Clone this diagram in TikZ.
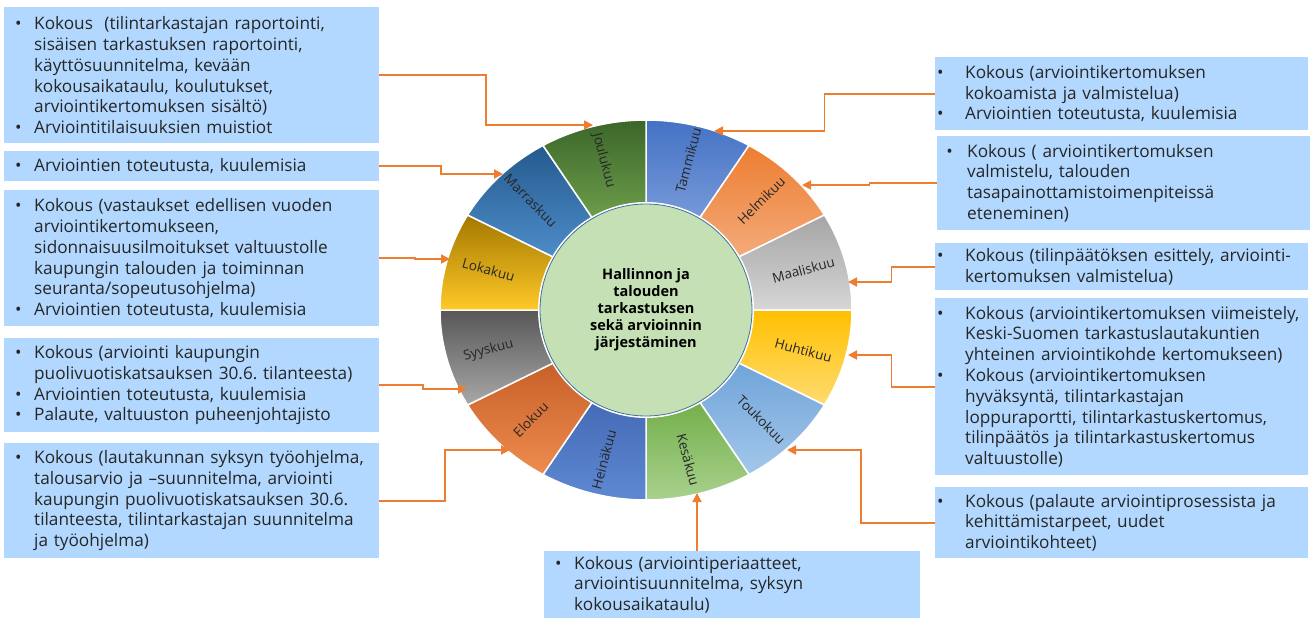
\documentclass[tikz,border=0pt]{standalone}
\usepackage{fontspec}
\setmainfont{Open Sans}
\usepackage{tikz}
\usetikzlibrary{arrows.meta,calc}
\definecolor{boxblue}{RGB}{178,216,255}
\definecolor{linkorange}{HTML}{ED7D31}
\definecolor{hubgreen}{HTML}{C5E0B4}
\definecolor{hubline}{HTML}{41719C}
\definecolor{janT}{HTML}{4472C4}\definecolor{janB}{HTML}{7A9BDA}
\definecolor{febT}{HTML}{ED7D31}\definecolor{febB}{HTML}{F4AC7C}
\definecolor{marT}{HTML}{A5A5A5}\definecolor{marB}{HTML}{D6D6D6}
\definecolor{aprT}{HTML}{FFC000}\definecolor{aprB}{HTML}{FFDB70}
\definecolor{mayT}{HTML}{6FA3D9}\definecolor{mayB}{HTML}{A3C7EA}
\definecolor{junT}{HTML}{70AD47}\definecolor{junB}{HTML}{A9D18E}
\definecolor{julT}{HTML}{4469B5}\definecolor{julB}{HTML}{5E89D2}
\definecolor{augT}{HTML}{C65F28}\definecolor{augB}{HTML}{EE8C4E}
\definecolor{sepT}{HTML}{575757}\definecolor{sepB}{HTML}{A8A8A8}
\definecolor{octT}{HTML}{A37800}\definecolor{octB}{HTML}{FFC927}
\definecolor{novT}{HTML}{245B8E}\definecolor{novB}{HTML}{4F8DCA}
\definecolor{decT}{HTML}{3B6629}\definecolor{decB}{HTML}{6FA04D}
\newcommand{\bl}[1][10.8pt]{\makebox[30pt][l]{\hspace*{#1}\textbullet}}
\newcommand{\cl}{\hspace*{30pt}}
\frenchspacing

\begin{document}
\begin{tikzpicture}[x=1pt,y=-1pt,
    box/.style={fill=boxblue,anchor=north west,inner sep=0pt,align=left,
      font=\fontsize{17.2pt}{20.8pt}\selectfont,text=black!85},
    link/.style={linkorange,line width=1.8pt,-{Triangle[length=9pt,width=9pt]}},
    elbow/.style={to path={-| ($(\tikztostart)!0.5!(\tikztotarget)$) |- (\tikztotarget)}},
    segment/.style={draw=white,line width=1.5pt},
    month/.style={font=\fontsize{13.5pt}{15pt}\selectfont,text=black!85}]
  \useasboundingbox (0,0) rectangle (1312,618);

  % wheel
  \begin{scope}[shift={(646,310)},y=1pt]
    \foreach \a/\tc/\bc/\lab/\rot/\nm in {60/janT/janB/Tammikuu/75/jan,
        30/febT/febB/Helmikuu/45/feb, 0/marT/marB/Maaliskuu/15/mar,
        -30/aprT/aprB/Huhtikuu/-15/apr, -60/mayT/mayB/Toukokuu/-45/may,
        -90/junT/junB/Kesäkuu/-75/jun, -120/julT/julB/Heinäkuu/75/jul,
        -150/augT/augB/Elokuu/45/aug, -180/sepT/sepB/Syyskuu/15/sep,
        150/octT/octB/Lokakuu/-15/oct, 120/novT/novB/Marraskuu/-45/nov,
        90/decT/decB/Joulukuu/-75/dec}{
      \path[segment,top color=\tc,bottom color=\bc]
        ({100*cos(\a)},{100*sin(\a)}) -- ({206*cos(\a)},{190*sin(\a)})
        arc[start angle=\a,end angle=\a+30,x radius=206,y radius=190]
        -- ({100*cos(\a+30)},{100*sin(\a+30)})
        arc[start angle=\a+30,end angle=\a,radius=100] -- cycle;
      \node[month,rotate=\rot] (m\nm) at ({163*cos(\a+15)},{155*sin(\a+15)}) {\lab};
    }
    \fill[white] (0,0) circle (108);
    \node[circle,fill=hubgreen,draw=hubline,line width=0.8pt,minimum size=212pt,
      inner sep=0pt,align=center,font=\bfseries\fontsize{14.5pt}{17pt}\selectfont]
      (hub) at (0,0) {Hallinnon ja\\talouden\\tarkastuksen\\sekä arvioinnin\\järjestäminen};
  \end{scope}

  \coordinate (tDec) at (593,125);
  \coordinate (tNov) at (503,174);
  \coordinate (tOct) at (450,259);
  \coordinate (tSep) at (467,389);
  \coordinate (tAug) at (510,450);
  \coordinate (tJan) at (714,131);
  \coordinate (tFeb) at (802,185);
  \coordinate (tMar) at (848,282);
  \coordinate (tApr) at (848,355);
  \coordinate (tMay) at (787,450);
  \coordinate (tJun) at (697,493);

  % left boxes
  \node[box,text width=375pt,minimum height=136pt] (b1) at (4,7)
    {\bl Kokous \ (tilintarkastajan raportointi,\\
     \cl sisäisen tarkastuksen raportointi,\\
     \cl käyttösuunnitelma, kevään\\
     \cl kokousaikataulu, koulutukset,\\
     \cl arviointikertomuksen sisältö)\\
     \bl Arviointitilaisuuksien muistiot};
  \node[box,text width=375pt,minimum height=30pt] (b2) at (4,151)
    {\bl Arviointien toteutusta, kuulemisia};
  \node[box,text width=375pt,minimum height=136pt] (b3) at (4,190)
    {\bl Kokous (vastaukset edellisen vuoden\\
     \cl arviointikertomukseen,\\
     \cl sidonnaisuusilmoitukset valtuustolle\\
     \cl kaupungin talouden ja toiminnan\\
     \cl seuranta/sopeutusohjelma)\\
     \bl Arviointien toteutusta, kuulemisia};
  \node[box,text width=375pt,minimum height=94pt] (b4) at (4,338)
    {\bl Kokous (arviointi kaupungin\\
     \cl puolivuotiskatsauksen 30.6. tilanteesta)\\
     \bl Arviointien toteutusta, kuulemisia\\
     \bl Palaute, valtuuston puheenjohtajisto};
  \node[box,text width=375pt,minimum height=115pt] (b5) at (4,443)
    {\bl Kokous (lautakunnan syksyn työohjelma,\\
     \cl talousarvio ja –suunnitelma, arviointi\\
     \cl kaupungin puolivuotiskatsauksen 30.6.\\
     \cl tilanteesta, tilintarkastajan suunnitelma\\
     \cl ja työohjelma)};

  % right boxes
  \node[box,text width=373pt,minimum height=73pt] (b6) at (935,57)
    {\bl[1.8pt]Kokous (arviointikertomuksen\\
     \cl kokoamista ja valmistelua)\\
     \bl[1.8pt]Arviointien toteutusta, kuulemisia};
  \node[box,text width=373pt,minimum height=94pt] (b7) at (937,136)
    {\bl[9.1pt]Kokous ( arviointikertomuksen\\
     \cl valmistelu, talouden\\
     \cl tasapainottamistoimenpiteissä\\
     \cl eteneminen)};
  \node[box,text width=373pt,minimum height=47pt] (b8) at (935,243)
    {\bl[1.8pt]Kokous (tilinpäätöksen esittely, arviointi-\\
     \cl kertomuksen valmistelua)};
  \node[box,text width=373pt,minimum height=177pt] (b9) at (935,298)
    {\bl[1.8pt]Kokous (arviointikertomuksen viimeistely,\\
     \cl Keski-Suomen tarkastuslautakuntien\\
     \cl yhteinen arviointikohde kertomukseen)\\
     \bl[1.8pt]Kokous (arviointikertomuksen\\
     \cl hyväksyntä, tilintarkastajan\\
     \cl loppuraportti, tilintarkastuskertomus,\\
     \cl tilinpäätös ja tilintarkastuskertomus\\
     \cl valtuustolle)};
  \node[box,text width=373pt,minimum height=71pt] (b10) at (935,487)
    {\bl[1.8pt]Kokous (palaute arviointiprosessista ja\\
     \cl kehittämistarpeet, uudet\\
     \cl arviointikohteet)};
  \node[box,text width=376pt,minimum height=67pt] (b11) at (544,551)
    {\bl Kokous (arviointiperiaatteet,\\
     \cl arviointisuunnitelma, syksyn\\
     \cl kokousaikataulu)};

  % connectors
  \draw[link] (b1.east) to[elbow] (tDec);
  \draw[link] (b2.east) to[elbow] (tNov);
  \draw[link] (b3.east) to[elbow] (tOct);
  \draw[link] (b4.east) to[elbow] (tSep);
  \draw[link] (b5.east) to[elbow] (tAug);
  \draw[link] (b6.west) to[elbow] (tJan);
  \draw[link] (b7.west) to[elbow] (tFeb);
  \draw[link] (b8.west) to[elbow] (tMar);
  \draw[link] (b9.west) to[elbow] (tApr);
  \draw[link] (b10.west) to[elbow] (tMay);
  \draw[link] (tJun |- b11.north) -- (tJun);
\end{tikzpicture}
\end{document}
